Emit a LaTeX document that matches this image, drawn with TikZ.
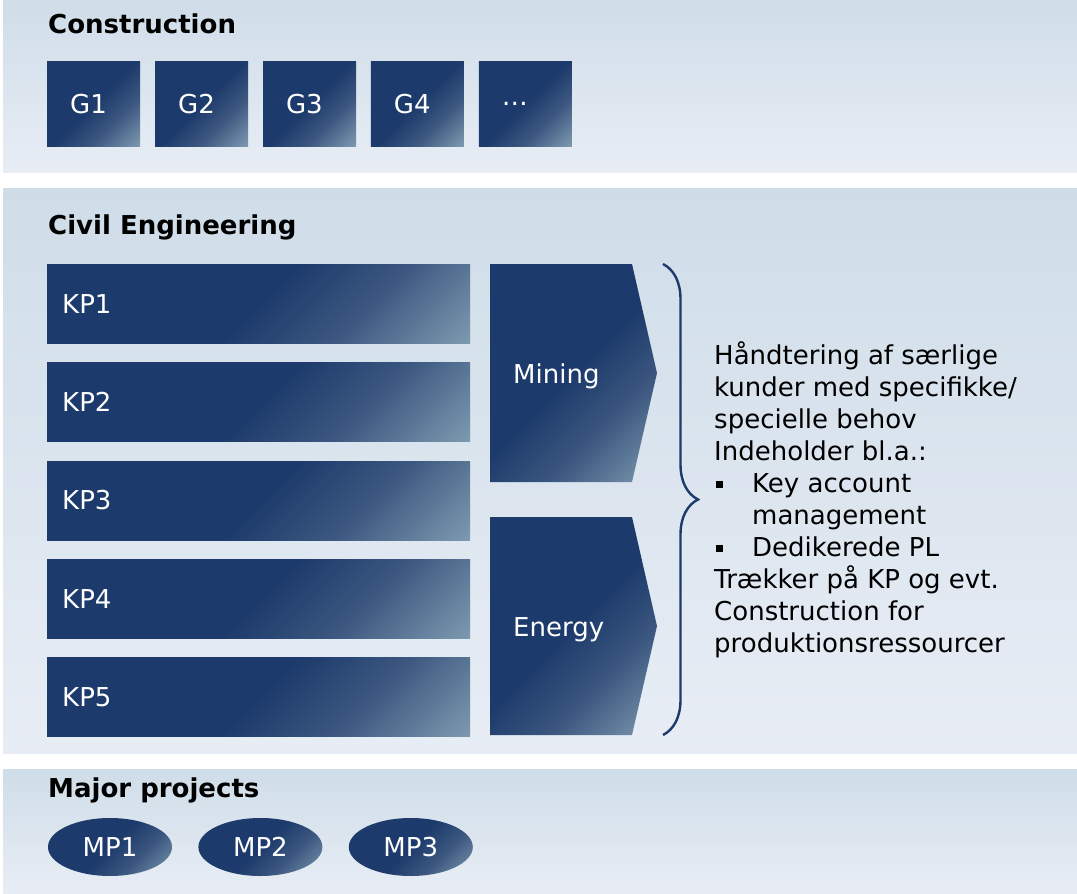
\documentclass[tikz,border=0pt]{standalone}
\usepackage{fontspec}
\setmainfont{DejaVu Sans}
\usepackage{tikz}
\usetikzlibrary{positioning}
\usetikzlibrary{shapes.geometric}
\usetikzlibrary{decorations.pathreplacing}
\definecolor{navy}{RGB}{28,58,107}
\definecolor{midblue}{RGB}{60,88,128}
\definecolor{paleblue}{RGB}{128,156,178}
\definecolor{paneltop}{RGB}{207,221,232}
\definecolor{panelbot}{RGB}{232,237,245}
\pgfdeclarehorizontalshading{navyfade}{100bp}{color(0bp)=(navy); color(50bp)=(navy); color(66bp)=(midblue); color(86bp)=(paleblue); color(100bp)=(paleblue)}
\newcommand{\sqbullet}{\makebox[38pt][l]{\hspace{2pt}\rule[4.6pt]{7pt}{7pt}}}

\begin{document}
\begin{tikzpicture}[
            x = 1pt, y = -1pt, % pixel units, y downwards
            font = \fontsize{26}{31.9}\selectfont,
            node distance = 14.5pt,
            panel/.style = {top color = paneltop, bottom color = panelbot},
            title/.style = {anchor = base west, inner sep = 0pt, font = \fontsize{26}{31.9}\selectfont\bfseries},
            navybox/.style = {shade, shading = navyfade, shading angle = -45, text = white, inner ysep = 0pt},
            gbox/.style = {navybox, minimum height = 85pt, text width = 47pt, inner xsep = 23pt, align = left},
            kpbox/.style = {navybox, minimum height = 79pt, text width = 393pt, inner xsep = 15pt, align = left},
            mpbox/.style = {navybox, ellipse, minimum width = 124pt, minimum height = 58pt, inner sep = 0pt}
            ]

        \useasboundingbox (0,0) rectangle (1077,894);

        % panels
        \path[panel] (3,0) rectangle (1077,172);
        \path[panel] (3,188) rectangle (1077,753);
        \path[panel] (3,769) rectangle (1077,893);

        \node[title] (constr) at (48,33) {Construction};
        \node[title] (civil) at (48,234) {Civil Engineering};
        \node[title] (major) at (48,797) {Major projects};

        % construction
        \node[gbox, anchor = north west] (G1) at (47,61) {G1};
        \node[gbox, right = of G1] (G2) {G2};
        \node[gbox, right = of G2] (G3) {G3};
        \node[gbox, right = of G3] (G4) {G4};
        \node[gbox, right = of G4] (G5) {\dots};

        % civil engineering
        \node[kpbox, anchor = north west] (KP1) at (47,264) {KP1};
        \node[kpbox, below = 19pt of KP1] (KP2) {KP2};
        \node[kpbox, below = 19pt of KP2] (KP3) {KP3};
        \node[kpbox, below = 19pt of KP3] (KP4) {KP4};
        \node[kpbox, below = 19pt of KP4] (KP5) {KP5};

        \path[navybox] (490,264) -- ++(142,0) -- ++(25,109) -- ++(-25,109) -- ++(-142,0) -- cycle;
        \node[anchor = base west, inner sep = 0pt, text = white] (mining) at (513,383) {Mining};

        \path[navybox] (490,517) -- ++(142,0) -- ++(25,109) -- ++(-25,109) -- ++(-142,0) -- cycle;
        \node[anchor = base west, inner sep = 0pt, text = white] (energy) at (513,636) {Energy};

        \coordinate (brace top) at (663,264);
        \coordinate (brace bot) at (663,735);
        \draw[navy, line width = 2.4pt, decorate, decoration = {brace, amplitude = 35pt}] (brace top) -- (brace bot);

        % last line sits on the base anchor
        \node[anchor = base west, align = left, inner sep = 0pt] (note) at (714,652) {%
            Håndtering af særlige\\
            kunder med specifikke/\\
            specielle behov\\
            Indeholder bl.a.:\\
            \sqbullet Key account\\
            \hspace*{38pt}management\\
            \sqbullet Dedikerede PL\\
            Trækker på KP og evt.\\
            Construction for\\
            produktionsressourcer};

        % major projects
        \node[mpbox] (MP1) at (110,847) {MP1};
        \node[mpbox, right = 26pt of MP1] (MP2) {MP2};
        \node[mpbox, right = 26pt of MP2] (MP3) {MP3};

\end{tikzpicture}
\end{document}
